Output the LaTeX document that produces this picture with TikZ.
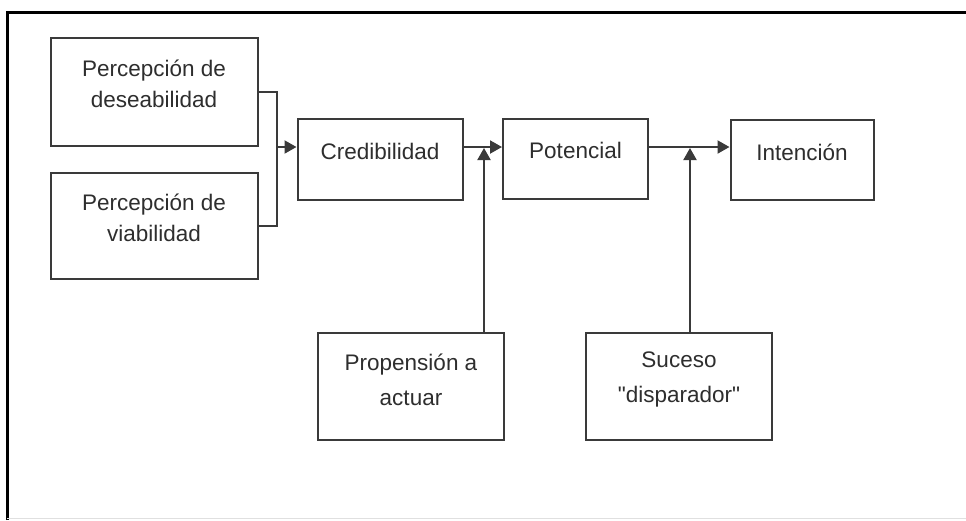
\documentclass[tikz,border=0pt]{standalone}
\usepackage{fontspec}
\newfontfamily\diagfont{Liberation Sans}
\usetikzlibrary{arrows.meta}
\definecolor{linegray}{HTML}{3A3A3A}
\definecolor{textgray}{HTML}{2E2E2E}
\tikzset{
  box/.style={draw=linegray, line width=2pt, fill=white, inner sep=0pt},
  txt/.style={text=textgray, align=center, font=\diagfont\fontsize{22.5}{31}\selectfont},
  link/.style={draw=linegray, line width=2pt},
  arrow/.style={link, -{Triangle[length=12pt, width=13pt]}}
}
\begin{document}
\begin{tikzpicture}
      [x=1pt, y=-1pt]
      \useasboundingbox (0, 0) rectangle (966, 520);
      % frame
      \draw[line width=3pt] (7, 520) -- (7, 12) -- (966, 12);
      \draw[line width=0.8pt, black!12] (7, 518.5) -- (966, 518.5);

      \node[box, minimum width=207, minimum height=108] (desea) at (154, 92) {};
      \node[box, minimum width=207, minimum height=106] (viab) at (154, 226) {};
      \node[box, minimum width=165, minimum height=81] (cred) at (380, 159.5) {};
      \node[box, minimum width=145, minimum height=80] (pot) at (575.5, 159) {};
      \node[box, minimum width=143, minimum height=80] (inten) at (802, 160) {};
      \node[box, minimum width=186, minimum height=107] (prop) at (411, 386.5) {};
      \node[box, minimum width=186, minimum height=107] (suceso) at (679, 386.5) {};

      \node[txt] (desea-t) at ([yshift=8pt]desea.center) {Percepción de\\deseabilidad};
      \node[txt] (viab-t) at ([yshift=8pt]viab.center) {Percepción de\\viabilidad};
      \node[txt] (cred-t) at ([yshift=8pt]cred.center) {Credibilidad};
      \node[txt] (pot-t) at ([yshift=9pt]pot.center) {Potencial};
      \node[txt] (inten-t) at ([yshift=8pt]inten.center) {Intención};
      \node[txt] (prop-t) at ([yshift=7pt]prop.center) {Propensión a\\[4pt]actuar};
      \node[txt] (suceso-t) at ([yshift=7pt]suceso.center) {Suceso\\[4pt]"disparador"};

      \coordinate (join) at (277, 147);
      \coordinate (tip1) at (484, 148);
      \coordinate (tip2) at (690, 148);

      \draw[link] (desea.east) -| (join);
      \draw[link] (viab.east) -| (join);
      \draw[arrow] (join) -- (cred.west |- join);
      \draw[arrow] (cred.east |- join) -- (pot.west |- join);
      \draw[arrow] (pot.east |- join) -- (inten.west |- join);
      \draw[arrow] (prop.north -| tip1) -- (tip1);
      \draw[arrow] (suceso.north -| tip2) -- (tip2);
\end{tikzpicture}
\end{document}
